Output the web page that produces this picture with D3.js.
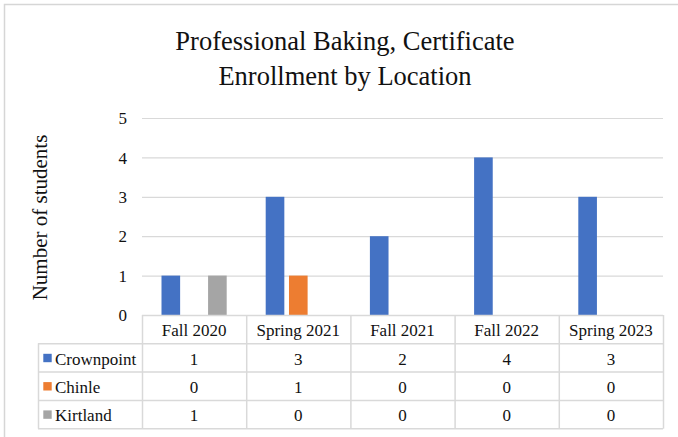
<!DOCTYPE html>
<html>
<head>
<meta charset="utf-8">
<script src="https://cdn.jsdelivr.net/npm/d3@7"></script>
<style>
  html, body { margin: 0; padding: 0; background: #fff; }
  svg { display: block; }
</style>
</head>
<body>
<svg id="chart" width="678" height="437"></svg>
<script>
// ---- data ----
const categories = ["Fall 2020", "Spring 2021", "Fall 2021", "Fall 2022", "Spring 2023"];
const seriesNames = ["Crownpoint", "Chinle", "Kirtland"];
const crownpoint = [1, 3, 2, 4, 3];
const chinle = [0, 1, 0, 0, 0];
const kirtland = [1, 0, 0, 0, 0];
const yTicks = [0, 1, 2, 3, 4, 5];
const titleLines = ["Professional Baking, Certificate", "Enrollment by Location"];
const yAxisTitle = "Number of students";

const seriesValues = [crownpoint, chinle, kirtland];
const colors = ["#4472C4", "#ED7D31", "#A5A5A5"];
const gridColor = "#d9d9d9";
const FONT = "'Liberation Serif', 'Times New Roman', serif";

// ---- layout ----
const W = 678, H = 437;
const plotLeft = 142, plotRight = 663, plotTop = 118, plotBottom = 315;
const rowH = 28.3;
const tableLeft = 38;

const svg = d3.select("#chart").style("font-family", FONT);

function txt(sel, size) {
  return sel.style("font-family", FONT).style("font-size", size).style("fill", "#111");
}

// outer frame
svg.append("rect")
  .attr("x", 4.5).attr("y", 4.5)
  .attr("width", W + 10).attr("height", H + 10)
  .attr("fill", "none").attr("stroke", "#d6d6d6").attr("stroke-width", 1.5);

// scales
const x0 = d3.scaleBand().domain(categories).range([plotLeft, plotRight]).padding(0);
const groupPad = 19.5;
const x1 = d3.scaleBand().domain(seriesNames)
  .range([groupPad, x0.bandwidth() - groupPad]).paddingInner(0.2).paddingOuter(0);
const y = d3.scaleLinear().domain([0, 5]).range([plotBottom, plotTop]);

// gridlines
svg.append("g").selectAll("line")
  .data(yTicks.filter(d => d > 0))
  .join("line")
  .attr("x1", plotLeft).attr("x2", plotRight)
  .attr("y1", d => y(d) + 0.5).attr("y2", d => y(d) + 0.5)
  .attr("stroke", gridColor).attr("stroke-width", 1.2);

// y axis labels
const yAxis = d3.axisLeft(y).tickValues(yTicks).tickSize(0).tickPadding(0).tickFormat(d3.format("d"));
const yg = svg.append("g").attr("transform", `translate(127,0)`).call(yAxis);
yg.attr("font-family", null).attr("font-size", null);
yg.select(".domain").remove();
txt(yg.selectAll("text"), "17px").attr("dy", "0.34em");

// bars
const groups = svg.append("g").selectAll("g")
  .data(categories)
  .join("g")
  .attr("transform", d => `translate(${x0(d)},0)`);

groups.selectAll("rect")
  .data((d, i) => seriesNames.map((s, j) => ({ s, j, v: seriesValues[j][i] })))
  .join("rect")
  .filter(d => d.v > 0)
  .attr("x", d => x1(d.s))
  .attr("width", x1.bandwidth())
  .attr("y", d => y(d.v))
  .attr("height", d => y(0) - y(d.v))
  .attr("fill", d => colors[d.j]);

// data table
const table = svg.append("g");
const rowTops = d3.range(5).map(i => plotBottom + i * rowH);
table.append("line")
  .attr("x1", plotLeft).attr("x2", plotRight)
  .attr("y1", plotBottom + 0.5).attr("y2", plotBottom + 0.5)
  .attr("stroke", gridColor).attr("stroke-width", 1.5);
table.selectAll("line.row")
  .data(rowTops.slice(1))
  .join("line").attr("class", "row")
  .attr("x1", tableLeft).attr("x2", plotRight)
  .attr("y1", d => d + 0.5).attr("y2", d => d + 0.5)
  .attr("stroke", gridColor).attr("stroke-width", 1.5);
const boundaries = categories.map(c => x0(c)).concat([plotRight]);
table.selectAll("line.col")
  .data(boundaries)
  .join("line").attr("class", "col")
  .attr("x1", d => d + 0.5).attr("x2", d => d + 0.5)
  .attr("y1", plotBottom).attr("y2", rowTops[4] + 0.5)
  .attr("stroke", gridColor).attr("stroke-width", 1.5);
table.append("line")
  .attr("x1", tableLeft + 0.5).attr("x2", tableLeft + 0.5)
  .attr("y1", rowTops[1]).attr("y2", rowTops[4] + 0.5)
  .attr("stroke", gridColor).attr("stroke-width", 1.5);

// header text
txt(table.selectAll("text.hdr")
  .data(categories)
  .join("text").attr("class", "hdr")
  .attr("x", d => x0(d) + x0.bandwidth() / 2)
  .attr("y", rowTops[0] + 21)
  .attr("text-anchor", "middle"), "17px")
  .text(d => d);

// series rows
seriesNames.forEach((s, j) => {
  const top = rowTops[j + 1];
  table.append("rect")
    .attr("x", 43.3).attr("y", top + 10.5)
    .attr("width", 8.4).attr("height", 8.4)
    .attr("fill", colors[j]);
  txt(table.append("text")
    .attr("x", 55).attr("y", top + 21.2), "17px")
    .text(s);
  txt(table.selectAll(null)
    .data(seriesValues[j])
    .join("text")
    .attr("x", (d, i) => x0(categories[i]) + x0.bandwidth() / 2)
    .attr("y", top + 21.2)
    .attr("text-anchor", "middle"), "17px")
    .text(d => d);
});

// title
txt(svg.append("text")
  .attr("x", 345).attr("y", 50)
  .attr("text-anchor", "middle"), "26.5px")
  .selectAll("tspan")
  .data(titleLines)
  .join("tspan")
  .attr("x", 345)
  .attr("dy", (d, i) => i === 0 ? 0 : 35)
  .text(d => d);

// y axis title
txt(svg.append("text")
  .attr("transform", `translate(47,217.5) rotate(-90)`)
  .attr("text-anchor", "middle"), "21px")
  .text(yAxisTitle);
</script>
</body>
</html>
